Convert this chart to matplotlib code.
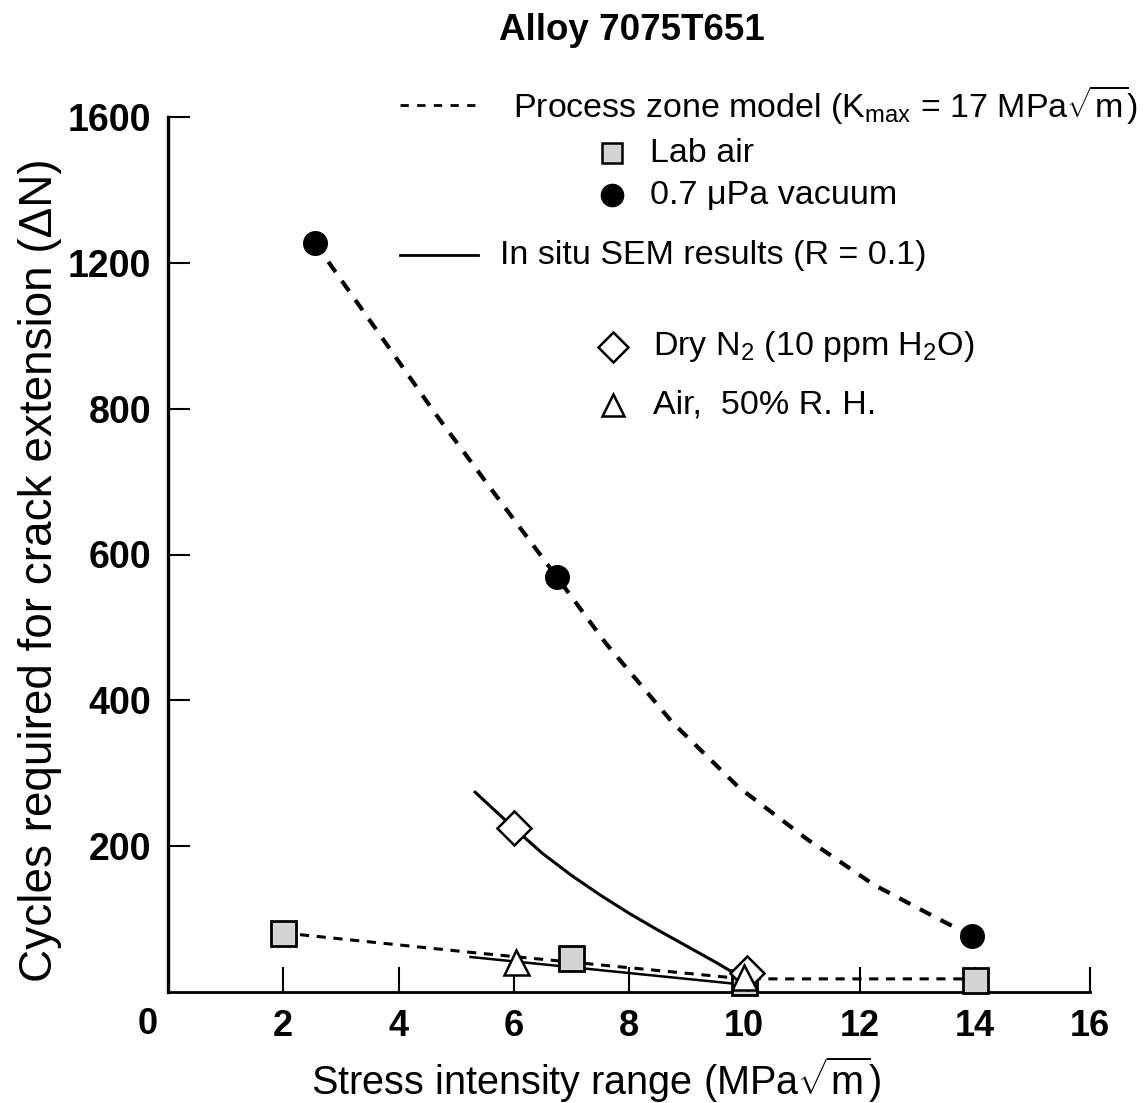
import numpy as np
import matplotlib
matplotlib.use("Agg")
import matplotlib.pyplot as plt
from matplotlib.lines import Line2D

plt.rcParams['font.family'] = ['Liberation Sans', 'DejaVu Sans']
plt.rcParams['mathtext.fontset'] = 'custom'
plt.rcParams['mathtext.rm'] = 'Liberation Sans'
plt.rcParams['mathtext.it'] = 'Liberation Sans:italic'
plt.rcParams['mathtext.bf'] = 'Liberation Sans:bold'

# dane
vac_x = [2.55, 6.75, 13.95]
vac_y = [1255, 569, 77]
model_x = [2.55, 3.6, 4.65, 5.7, 6.75, 7.6, 8.75, 9.9, 11.1, 12.25, 13.4, 13.95]
model_y = [1255, 1020, 792, 680, 569, 478, 370, 281, 209, 147, 99, 77]

lab_x = [2, 7, 10, 14]
lab_y = [81, 47, 14, 16]
lab_line_x = [2, 5.3, 10, 14]
lab_line_y = [81, 54, 18, 18]

dry_x = [6.0, 10.05]
dry_y = [225, 26]
dry_line_x = [5.33, 6.0, 6.5, 7.0, 7.5, 8.0, 8.5, 9.0, 9.5, 9.8]
dry_line_y = [274, 225, 190, 160, 133, 108, 85, 63, 41, 27]

hum_x = [6.04, 10.0]
hum_y = [41, 21]
hum_line_x = [5.25, 10.0]
hum_line_y = [48, 10]

x_ticks = [2, 4, 6, 8, 10, 12, 14, 16]
y_ticks = [200, 400, 600, 800, 1200, 1600]

W, H = 1148, 1103


def fx(px):
    return px / W


def fy(py):
    return 1 - py / H


# os y: powyzej 800 skala jest sciśnięta o polowe
def fwd(y):
    y = np.asarray(y, dtype=float)
    return np.where(y <= 800, y, 800 + (y - 800) / 2)


def inv(f):
    f = np.asarray(f, dtype=float)
    return np.where(f <= 800, f, 800 + (f - 800) * 2)


fig = plt.figure(figsize=(W / 100, H / 100), dpi=100)
ax = fig.add_axes([fx(168), 1 - 992 / H, 922 / W, 875 / H])
ax.set_yscale('function', functions=(fwd, inv))
ax.set_xlim(0, 16)
ax.set_ylim(0, 1600)

# krzywe
ax.plot(model_x, model_y, color='black', lw=3, linestyle=(0, (3, 2.6)), zorder=2)
ax.plot(lab_line_x, lab_line_y, color='black', lw=2.2, linestyle=(0, (3, 2.5)), zorder=2)
ax.plot(dry_line_x, dry_line_y, color='black', lw=2.2, zorder=2)
ax.plot(hum_line_x, hum_line_y, color='black', lw=1.8, zorder=2)

# punkty
ax.plot(vac_x, vac_y, 'o', ms=17, color='black', zorder=4, clip_on=False)
ax.plot(lab_x, lab_y, 's', ms=18, mfc='#d4d4d4', mec='black', mew=2, zorder=4, clip_on=False)
ax.plot(dry_x, dry_y, 'D', ms=17, mfc='white', mec='black', mew=1.8, zorder=5, clip_on=False)
ax.plot(hum_x, hum_y, '^', ms=18, mfc='white', mec='black', mew=1.8, zorder=6, clip_on=False)

for s in ['top', 'right']:
    ax.spines[s].set_visible(False)
ax.spines['left'].set_linewidth(2.4)
ax.spines['bottom'].set_linewidth(2.0)

ax.set_xticks(x_ticks)
ax.set_xticklabels([str(t) for t in x_ticks], fontsize=26, fontweight='bold')
ax.set_yticks(y_ticks)
ax.set_yticklabels([str(t) for t in y_ticks], fontsize=27, fontweight='bold')
ax.yaxis.set_minor_locator(matplotlib.ticker.NullLocator())
ax.tick_params(axis='x', direction='in', length=18, width=1.5, pad=12)
ax.tick_params(axis='y', direction='in', length=16, width=1.5, pad=12)

fig.text(fx(148), fy(1025), '0', fontsize=26, fontweight='bold', ha='center', va='center')

# tytul i opisy osi
fig.text(fx(632), fy(30), 'Alloy 7075T651', fontsize=26.5, fontweight='bold', ha='center', va='center')
fig.text(fx(40), fy(570), 'Cycles required for crack extension (\u0394N)', fontsize=33,
         rotation=90, ha='center', va='center')
fig.text(fx(596), fy(1080), r'Stress intensity range (MPa$\sqrt{\mathrm{m}}$)', fontsize=28.5,
         ha='center', va='center')

# legenda rysowana recznie
fig.add_artist(Line2D([fx(400), fx(480)], [fy(105), fy(105)], color='black', lw=2,
                      linestyle=(0, (3, 3))))
fig.add_artist(Line2D([fx(400), fx(478)], [fy(255), fy(255)], color='black', lw=2))
fig.add_artist(Line2D([fx(612)], [fy(153)], marker='s', ms=15, mfc='#d4d4d4', mec='black', mew=1.8))
fig.add_artist(Line2D([fx(612)], [fy(195)], marker='o', ms=16, color='black'))
fig.add_artist(Line2D([fx(613)], [fy(347)], marker='D', ms=15, mfc='white', mec='black', mew=1.8))
fig.add_artist(Line2D([fx(613)], [fy(405)], marker='^', ms=16, mfc='white', mec='black', mew=1.8))

fs = 24.5
fig.text(fx(513), fy(105), r'Process zone model ($\mathrm{K_{max}}$ = 17 MPa$\sqrt{\mathrm{m}}$)',
         fontsize=fs, va='center')
fig.text(fx(650), fy(153), 'Lab air', fontsize=fs, va='center')
fig.text(fx(650), fy(195), '0.7 \u03bcPa vacuum', fontsize=fs, va='center')
fig.text(fx(500), fy(255), 'In situ SEM results (R = 0.1)', fontsize=fs, va='center')
fig.text(fx(653), fy(347), r'Dry $\mathrm{N_2}$ (10 ppm $\mathrm{H_2O}$)', fontsize=fs, va='center')
fig.text(fx(653), fy(405), 'Air,  50% R. H.', fontsize=fs, va='center')

fig.savefig('out.png', dpi=100)
